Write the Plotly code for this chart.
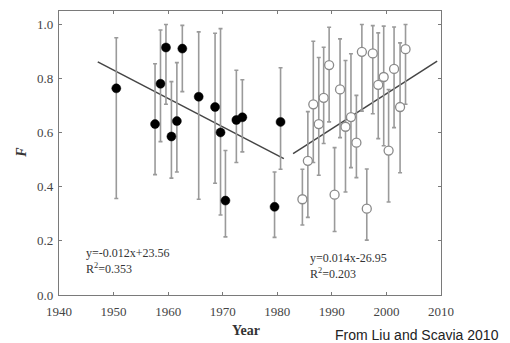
import plotly.graph_objects as go

# Early period (filled circles)
early_year = [1950.5, 1957.6, 1958.6, 1959.6, 1960.6, 1961.6, 1962.6, 1965.6, 1968.6, 1969.6, 1970.5, 1972.5, 1973.6, 1979.5, 1980.6]
early_F =    [0.764, 0.632, 0.781, 0.915, 0.586, 0.643, 0.911, 0.733, 0.695, 0.601, 0.349, 0.647, 0.657, 0.326, 0.640]
early_hi =   [0.951, 0.855, 0.980, 1.000, 0.789, 0.859, 0.997, 0.973, 0.968, 0.985, 0.534, 0.831, 0.796, 0.455, 0.840]
early_lo =   [0.357, 0.445, 0.567, 0.705, 0.432, 0.455, 0.752, 0.354, 0.413, 0.296, 0.215, 0.490, 0.529, 0.213, 0.465]

# Late period (open circles)
late_year = [1984.6, 1985.6, 1986.6, 1987.6, 1988.5, 1989.5, 1990.5, 1991.5, 1992.5, 1993.5, 1994.5, 1995.5, 1996.4, 1997.5, 1998.5, 1999.5, 2000.4, 2001.4, 2002.5, 2003.5]
late_F =    [0.354, 0.496, 0.705, 0.632, 0.729, 0.850, 0.371, 0.760, 0.622, 0.658, 0.563, 0.899, 0.319, 0.893, 0.777, 0.806, 0.534, 0.836, 0.695, 0.909]
late_hi =   [0.465, 0.678, 0.938, 0.878, 0.916, 0.990, 0.545, 0.947, 0.867, 0.892, 0.738, 1.000, 0.466, 0.996, 0.969, 0.994, 0.760, 0.991, 0.932, 1.000]
late_lo =   [0.259, 0.287, 0.490, 0.443, 0.560, 0.640, 0.235, 0.582, 0.381, 0.471, 0.434, 0.680, 0.203, 0.670, 0.578, 0.552, 0.344, 0.619, 0.452, 0.705]

# Regression line endpoints
fit1_x = [1947.1, 1981.2]
fit1_y = [0.862, 0.504]
fit2_x = [1982.9, 2009.3]
fit2_y = [0.523, 0.865]

x_ticks = [1940, 1950, 1960, 1970, 1980, 1990, 2000, 2010]
y_ticks = [0.0, 0.2, 0.4, 0.6, 0.8, 1.0]
y_tick_text = ["0.0", "0.2", "0.4", "0.6", "0.8", "1.0"]

SERIF = "Liberation Serif"
ERR = "#9a9a9a"

W, H = 510, 343
ml, mr, mt, mb = 59, 68.5, 11, 47.5
pw, ph = W - ml - mr, H - mt - mb


def err(F, hi, lo):
    return dict(type="data", symmetric=False,
                array=[h - f for h, f in zip(hi, F)],
                arrayminus=[f - l for f, l in zip(F, lo)],
                color=ERR, thickness=1.6, width=2)


def px(x):
    return (x - ml) / pw


def py(y):
    return (H - mb - y) / ph


fig = go.Figure()
fig.add_trace(go.Scatter(x=fit1_x, y=fit1_y, mode="lines",
                         line=dict(color="#454545", width=1.5), showlegend=False))
fig.add_trace(go.Scatter(x=fit2_x, y=fit2_y, mode="lines",
                         line=dict(color="#454545", width=1.5), showlegend=False))
fig.add_trace(go.Scatter(x=early_year, y=early_F, mode="markers",
                         error_y=err(early_F, early_hi, early_lo),
                         marker=dict(color="black", size=9, line=dict(color="black", width=0.5)),
                         showlegend=False))
fig.add_trace(go.Scatter(x=late_year, y=late_F, mode="markers",
                         error_y=err(late_F, late_hi, late_lo),
                         marker=dict(color="white", size=9, line=dict(color="#8a8a8a", width=1.3)),
                         showlegend=False))

axis_common = dict(showline=True, linecolor="#7a7a7a", linewidth=1.3, mirror="ticks",
                   ticks="inside", ticklen=3, tickcolor="#7a7a7a", showgrid=False,
                   zeroline=False, tickfont=dict(family=SERIF, size=13, color="#444"))

fig.update_xaxes(range=[1940, 2010], tickvals=x_ticks, ticklabelstandoff=4, **axis_common)
fig.update_yaxes(range=[0, 1.05], tickvals=y_ticks, ticktext=y_tick_text, ticklabelstandoff=2,
                 **axis_common)

fig.add_annotation(x=px(84), y=py(278), xref="paper", yref="paper", xanchor="left", yanchor="bottom",
                   text="y=-0.012x+23.56<br>R<sup>2</sup>=0.353", showarrow=False, align="left",
                   font=dict(family=SERIF, size=12, color="#333"))
fig.add_annotation(x=px(308), y=py(283), xref="paper", yref="paper", xanchor="left", yanchor="bottom",
                   text="y=0.014x-26.95<br>R<sup>2</sup>=0.203", showarrow=False, align="left",
                   font=dict(family=SERIF, size=12, color="#333"))
fig.add_annotation(x=px(22), y=py(153), xref="paper", yref="paper", xanchor="center", yanchor="middle",
                   showarrow=False, text="<b><i>F</i></b>", textangle=-90,
                   font=dict(family=SERIF, size=14, color="#333"))
fig.add_annotation(x=px(246), y=py(331), xref="paper", yref="paper", xanchor="center", yanchor="middle",
                   text="<b>Year</b>", showarrow=False,
                   font=dict(family=SERIF, size=14, color="#333"))
fig.add_annotation(x=px(333), y=py(336), xref="paper", yref="paper", xanchor="left", yanchor="middle",
                   text="From Liu and Scavia 2010", showarrow=False,
                   font=dict(family="Liberation Sans", size=14, color="#222"))

fig.update_layout(width=W, height=H, margin=dict(l=ml, r=mr, t=mt, b=mb),
                  font=dict(family=SERIF, color="#444"),
                  plot_bgcolor="white", paper_bgcolor="white")

fig.write_html("out.html", config={"displayModeBar": False},
               post_script="document.body.style.margin='0';document.body.style.overflow='hidden';")
